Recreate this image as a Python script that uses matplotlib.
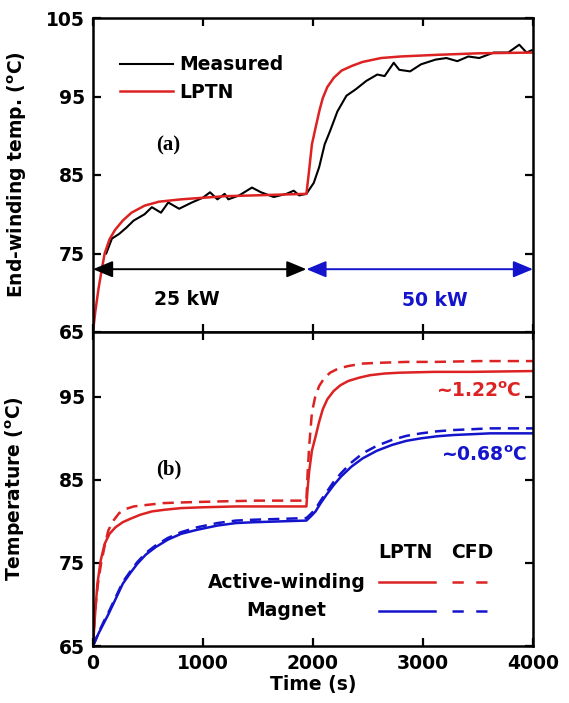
import matplotlib
matplotlib.use("Agg")
import matplotlib.pyplot as plt
from matplotlib.lines import Line2D

plt.rcParams['font.family'] = ['DejaVu Sans']
plt.rcParams['font.weight'] = 'bold'
plt.rcParams['mathtext.fontset'] = 'custom'
plt.rcParams['mathtext.rm'] = 'DejaVu Sans:bold'
plt.rcParams['mathtext.it'] = 'DejaVu Sans:bold'
plt.rcParams['mathtext.bf'] = 'DejaVu Sans:bold'

RED = '#dc2222'
BLUE = '#1414cc'

# ---------------- data: panel (a) ----------------
t_lptn_a = [0, 20, 50, 80, 106, 150, 200, 271, 350, 470, 600, 800, 1000, 1200, 1460, 1700, 1940,
            1960, 1990, 2023, 2060, 2089, 2130, 2190, 2260, 2354, 2450, 2618, 2800, 3114, 3500, 4000]
T_lptn_a = [65, 67.5, 70.5, 73.0, 75.0, 76.8, 78.0, 79.2, 80.2, 81.1, 81.6, 81.9, 82.1, 82.3, 82.4, 82.5, 82.6,
            85.0, 88.9, 91.0, 93.3, 94.8, 96.2, 97.4, 98.3, 98.9, 99.4, 99.9, 100.1, 100.3, 100.5, 100.6]

t_meas = [120, 172, 238, 304, 370, 469, 535, 618, 684, 783, 899, 998, 1064, 1131, 1197, 1230, 1329,
          1445, 1527, 1643, 1759, 1825, 1874, 1940, 2007, 2056, 2106, 2155, 2222, 2304, 2387, 2486,
          2585, 2651, 2734, 2784, 2883, 2982, 3114, 3213, 3312, 3412, 3511, 3643, 3775, 3875, 3941, 3990]
T_meas = [75.0, 76.9, 77.5, 78.3, 79.2, 80.0, 80.9, 80.2, 81.5, 80.7, 81.5, 82.1, 82.8, 81.9, 82.6, 81.9, 82.4,
          83.4, 82.8, 82.2, 82.6, 83.0, 82.4, 82.6, 84.0, 86.0, 88.9, 90.6, 93.1, 95.1, 95.9, 97.0,
          97.8, 97.6, 99.3, 98.4, 98.2, 99.1, 99.7, 99.9, 99.5, 100.1, 99.9, 100.6, 100.6, 101.6, 100.6, 100.9]

step_time = 1940
t_end = 4000
arrow_level = 73.0
power_labels = ['25 kW', '50 kW']

# ---------------- data: panel (b) ----------------
t_aw_lptn = [0, 20, 40, 70, 106, 150, 205, 270, 337, 430, 535, 650, 800, 1000, 1296, 1600, 1940,
             1950, 1965, 1990, 2023, 2056, 2089, 2130, 2188, 2250, 2320, 2420, 2519, 2650, 2784, 3100, 3445, 4000]
T_aw_lptn = [65, 69.0, 72.5, 75.3, 77.3, 78.5, 79.3, 79.9, 80.3, 80.8, 81.2, 81.4, 81.6, 81.7, 81.8, 81.8, 81.8,
             83.8, 86.0, 88.5, 90.2, 92.0, 93.5, 94.7, 95.7, 96.4, 96.9, 97.3, 97.6, 97.8, 97.9, 98.0, 98.0, 98.1]

t_aw_cfd = [0, 20, 45, 73, 105, 139, 180, 238, 300, 370, 500, 635, 850, 1131, 1500, 1940,
            1950, 1965, 1990, 2020, 2056, 2100, 2155, 2230, 2320, 2450, 2618, 2850, 3114, 3500, 4000]
T_aw_cfd = [65, 69.5, 72.5, 74.9, 77.0, 78.9, 80.0, 81.0, 81.5, 81.8, 82.0, 82.2, 82.3, 82.4, 82.5, 82.5,
            85.5, 89.0, 93.1, 95.0, 96.3, 97.2, 97.9, 98.4, 98.7, 99.0, 99.1, 99.2, 99.2, 99.3, 99.3]

t_mag = [0, 50, 100, 139, 200, 271, 340, 403, 480, 569, 680, 800, 950, 1131, 1300, 1461, 1700, 1940,
         1980, 2023, 2070, 2122, 2190, 2255, 2350, 2453, 2580, 2717, 2850, 2982, 3130, 3280, 3450, 3610, 3800, 4000]
T_mag_lptn = [65, 66.5, 67.8, 68.8, 70.5, 72.5, 73.8, 74.9, 76.0, 76.9, 77.8, 78.5, 79.0, 79.5, 79.8, 79.9, 80.0, 80.1,
              80.6, 81.2, 82.2, 83.2, 84.4, 85.4, 86.6, 87.6, 88.5, 89.2, 89.7, 90.0, 90.25, 90.4, 90.5, 90.6, 90.6, 90.6]
T_mag_cfd = [65, 66.6, 68.0, 69.0, 70.7, 72.7, 74.0, 75.1, 76.2, 77.1, 78.0, 78.7, 79.3, 79.8, 80.1, 80.2, 80.3, 80.4,
             80.9, 81.5, 82.5, 83.5, 84.8, 85.8, 87.1, 88.2, 89.1, 89.8, 90.3, 90.6, 90.85, 91.0, 91.1, 91.2, 91.2, 91.2]

diff_labels = [r'~1.22$^{o}$C', r'~0.68$^{o}$C']

x_ticks = [0, 1000, 2000, 3000, 4000]
y_ticks = [65, 75, 85, 95, 105]

# ---------------- figure ----------------
W, H = 569, 703
fig = plt.figure(figsize=(W / 100, H / 100), dpi=100)
L, Wd = 93 / W, 440 / W
axA = fig.add_axes([L, (H - 332) / H, Wd, 314 / H])
axB = fig.add_axes([L, (H - 646) / H, Wd, 314 / H])

FS = 13.5
for ax in (axA, axB):
    for s in ax.spines.values():
        s.set_linewidth(1.8)
    ax.set_xlim(0, 4000)
    ax.set_xticks(x_ticks)
    ax.set_yticks(y_ticks)
    ax.tick_params(direction='in', length=6, width=1.6, top=True, right=True,
                   labelsize=FS, pad=6)
    for lab in ax.get_xticklabels() + ax.get_yticklabels():
        lab.set_fontweight('bold')

# panel (a)
axA.set_ylim(65, 105)
axA.tick_params(labelbottom=False)
axA.plot(t_meas, T_meas, color='black', lw=1.5, label='Measured')
axA.plot(t_lptn_a, T_lptn_a, color=RED, lw=1.8, label='LPTN')
axA.legend(loc='upper left', bbox_to_anchor=(0.045, 0.905), frameon=False,
           prop={'size': FS, 'weight': 'bold'}, handlelength=2.8,
           handletextpad=0.35, labelspacing=0.45, borderaxespad=0)
axA.annotate('', xy=(0, arrow_level), xytext=(step_time, arrow_level),
             arrowprops=dict(arrowstyle='<|-|>,head_length=1.2,head_width=0.5',
                             color='black', lw=1.4, mutation_scale=10,
                             shrinkA=0, shrinkB=0))
axA.annotate('', xy=(step_time, arrow_level), xytext=(t_end, arrow_level),
             arrowprops=dict(arrowstyle='<|-|>,head_length=1.2,head_width=0.5',
                             color=BLUE, lw=1.4, mutation_scale=10,
                             shrinkA=0, shrinkB=0))
axA.text(step_time * 0.44, 69.2, power_labels[0], fontsize=FS, fontweight='bold',
         color='black', ha='center', va='center')
axA.text((step_time + t_end) / 2 + 140, 69.0, power_labels[1], fontsize=FS, fontweight='bold',
         color=BLUE, ha='center', va='center')
axA.text(680, 88.7, '(a)', fontsize=15, fontweight='bold', family='Liberation Serif',
         ha='center', va='center')
axA.set_ylabel(r'End-winding temp. ($^{o}$C)', fontsize=FS, fontweight='bold')
axA.yaxis.set_label_coords(-0.145, 0.5)

# panel (b)
axB.set_ylim(65, 102.8)
axB.plot(t_aw_lptn, T_aw_lptn, color=RED, lw=1.8)
axB.plot(t_aw_cfd, T_aw_cfd, color=RED, lw=1.8, ls=(0, (4.5, 2.8)))
axB.plot(t_mag, T_mag_lptn, color=BLUE, lw=1.8)
axB.plot(t_mag, T_mag_cfd, color=BLUE, lw=1.8, ls=(0, (4.5, 2.8)))
axB.text(3890, 95.7, diff_labels[0], fontsize=FS, fontweight='bold', color=RED,
         ha='right', va='center')
axB.text(3945, 88.0, diff_labels[1], fontsize=FS, fontweight='bold', color=BLUE,
         ha='right', va='center')
axB.text(690, 86.2, '(b)', fontsize=15, fontweight='bold', family='Liberation Serif',
         ha='center', va='center')
axB.set_ylabel(r'Temperature ($^{o}$C)', fontsize=FS, fontweight='bold')
axB.yaxis.set_label_coords(-0.15, 0.5)
axB.set_xlabel('Time (s)', fontsize=FS, fontweight='bold', labelpad=1)

# custom legend for panel (b) (axes-fraction key positions)
tr = axB.transAxes
axB.text(0.710, 0.298, 'LPTN', transform=tr, fontsize=FS, fontweight='bold', ha='center', va='center')
axB.text(0.862, 0.298, 'CFD', transform=tr, fontsize=FS, fontweight='bold', ha='center', va='center')
axB.text(0.440, 0.203, 'Active-winding', transform=tr, fontsize=FS, fontweight='bold', ha='center', va='center')
axB.text(0.440, 0.113, 'Magnet', transform=tr, fontsize=FS, fontweight='bold', ha='center', va='center')
for yy, col in ((0.203, RED), (0.113, BLUE)):
    axB.add_line(Line2D([0.650, 0.777], [yy, yy], transform=tr, color=col, lw=1.8))
    axB.add_line(Line2D([0.815, 0.905], [yy, yy], transform=tr, color=col, lw=1.8,
                        ls=(0, (4.5, 5.0))))

fig.savefig('out.png', dpi=100)
